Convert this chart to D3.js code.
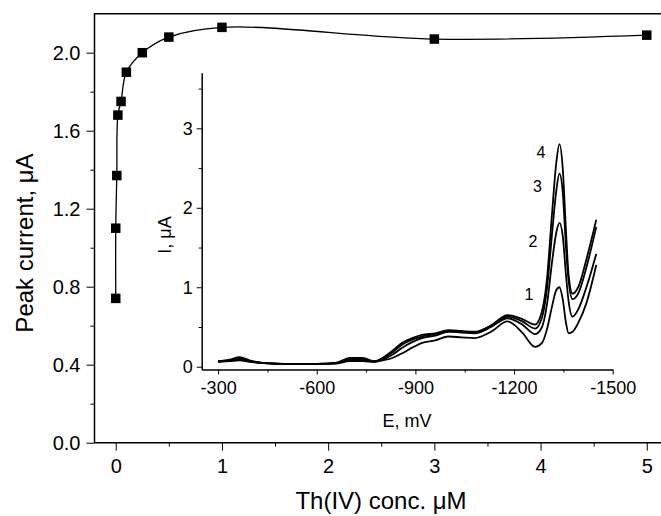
<!DOCTYPE html>
<html>
<head>
<meta charset="utf-8">
<script src="https://cdn.jsdelivr.net/npm/d3@7"></script>
<style>
  body { margin: 0; background: #fff; }
  svg { display: block; font-family: "Liberation Sans", Arial, sans-serif; }
  .axis path, .axis line { stroke: #000; }
  .axis text { fill: #000; }
</style>
</head>
<body>
<svg id="chart" width="661" height="516"></svg>
<script>
// main plot: peak current vs Th(IV) concentration
var conc = [0, 0, 0.01, 0.02, 0.05, 0.1, 0.25, 0.5, 1, 3, 5];
var peak = [0.74, 1.10, 1.37, 1.68, 1.75, 1.90, 2.00, 2.08, 2.13, 2.07, 2.09];
var mainXTicks = [0, 1, 2, 3, 4, 5];
var mainYTicks = [0.0, 0.4, 0.8, 1.2, 1.6, 2.0];

// inset: voltammograms 1..4
var potential = [-300, -335, -365, -395, -440, -500, -600, -660, -700, -740, -775, -800, -830, -860, -890, -920,
  -960, -1000, -1040, -1080, -1130, -1180, -1225, -1264, -1285, -1300, -1315, -1328, -1338, -1348, -1358,
  -1366, -1378, -1395, -1420, -1450];
var curve1 = [0.06, 0.07, 0.08, 0.06, 0.045, 0.035, 0.035, 0.04, 0.07, 0.07, 0.06, 0.08, 0.11, 0.17, 0.24, 0.30,
  0.33, 0.38, 0.37, 0.36, 0.44, 0.57, 0.43, 0.25, 0.30, 0.47, 0.75, 0.96, 1.00, 0.85, 0.55,
  0.42, 0.44, 0.55, 0.80, 1.28];
var curve2 = [0.07, 0.08, 0.10, 0.07, 0.045, 0.035, 0.035, 0.045, 0.09, 0.09, 0.065, 0.09, 0.15, 0.24, 0.31, 0.36,
  0.39, 0.44, 0.43, 0.42, 0.50, 0.61, 0.53, 0.41, 0.50, 0.78, 1.30, 1.68, 1.81, 1.65, 1.15,
  0.82, 0.63, 0.72, 1.00, 1.42];
var curve3 = [0.07, 0.09, 0.12, 0.08, 0.045, 0.035, 0.035, 0.05, 0.11, 0.11, 0.07, 0.10, 0.18, 0.28, 0.34, 0.38,
  0.41, 0.45, 0.44, 0.43, 0.51, 0.63, 0.57, 0.48, 0.62, 0.98, 1.65, 2.20, 2.43, 2.20, 1.50,
  1.08, 0.85, 0.92, 1.25, 1.76];
var curve4 = [0.06, 0.08, 0.09, 0.07, 0.045, 0.035, 0.035, 0.045, 0.08, 0.08, 0.065, 0.11, 0.20, 0.30, 0.36, 0.40,
  0.42, 0.46, 0.45, 0.44, 0.52, 0.65, 0.60, 0.53, 0.70, 1.10, 1.90, 2.55, 2.80, 2.50, 1.70,
  1.15, 0.92, 1.00, 1.35, 1.85];
var curveNames = ["1", "2", "3", "4"];
var insetXTicks = [-300, -600, -900, -1200, -1500];
var insetYTicks = [0, 1, 2, 3];

var svg = d3.select("#chart");
var plain = function(d){ return String(d); }; // keep ascii hyphen, no thousands comma

// ---- main axes
var x = d3.scaleLinear().domain([-0.2, 5.2]).range([94.5, 668]);
var y = d3.scaleLinear().domain([0, 2.2]).range([442.7, 13.7]);

svg.append("g").attr("class", "axis")
  .attr("transform", "translate(0,442.7)")
  .call(d3.axisBottom(x).tickValues(mainXTicks).tickSize(8).tickPadding(8.5).tickFormat(plain))
  .call(function(g){ g.select(".domain").remove(); })
  .selectAll("text").style("font-size", "20px");
svg.append("g").attr("class", "axis")
  .attr("transform", "translate(0,442.7)")
  .call(d3.axisBottom(x).tickValues([0.5, 1.5, 2.5, 3.5, 4.5]).tickSize(4).tickFormat(""))
  .call(function(g){ g.select(".domain").remove(); });

svg.append("g").attr("class", "axis")
  .attr("transform", "translate(94.5,0)")
  .call(d3.axisLeft(y).tickValues(mainYTicks).tickSize(8).tickPadding(6).tickFormat(d3.format(".1f")))
  .call(function(g){ g.select(".domain").remove(); })
  .selectAll("text").style("font-size", "20px");
svg.append("g").attr("class", "axis")
  .attr("transform", "translate(94.5,0)")
  .call(d3.axisLeft(y).tickValues([0.2, 0.6, 1.0, 1.4, 1.8]).tickSize(4).tickFormat(""))
  .call(function(g){ g.select(".domain").remove(); });

// frame (right side falls outside the picture)
svg.append("path")
  .attr("d", "M" + x(5.2) + "," + y(2.2) + "H" + x(-0.2) + "V" + y(0) + "H" + x(5.2))
  .attr("fill", "none").attr("stroke", "#000").attr("stroke-width", 1.5);

svg.append("text")
  .attr("x", 381).attr("y", 509)
  .attr("text-anchor", "middle").style("font-size", "24px")
  .text("Th(IV) conc. \u03bcM");
svg.append("text")
  .attr("transform", "translate(33,243) rotate(-90)")
  .attr("text-anchor", "middle").style("font-size", "24px")
  .text("Peak current, \u03bcA");

// ---- inset
var ix = d3.scaleLinear().domain([-250, -1500]).range([201.7, 612.7]);
var iy = d3.scaleLinear().domain([-0.035, 3.7]).range([369.5, 72.7]);

svg.append("g").attr("class", "axis")
  .attr("transform", "translate(0,369.5)")
  .call(d3.axisBottom(ix).tickValues(insetXTicks).tickSize(5).tickPadding(6.5).tickSizeOuter(0).tickFormat(plain))
  .call(function(g){ g.select(".domain").attr("stroke-width", 1.5); })
  .selectAll("text").style("font-size", "18px");
svg.append("g").attr("class", "axis")
  .attr("transform", "translate(0,369.5)")
  .call(d3.axisBottom(ix).tickValues([-450, -750, -1050, -1350]).tickSize(3).tickFormat(""))
  .call(function(g){ g.select(".domain").remove(); });

svg.append("g").attr("class", "axis")
  .attr("transform", "translate(201.7,0)")
  .call(d3.axisLeft(iy).tickValues(insetYTicks).tickSize(5).tickPadding(4).tickSizeOuter(0).tickFormat(plain))
  .call(function(g){ g.select(".domain").attr("stroke-width", 1.5); })
  .selectAll("text").style("font-size", "18px");
svg.append("g").attr("class", "axis")
  .attr("transform", "translate(201.7,0)")
  .call(d3.axisLeft(iy).tickValues([0.5, 1.5, 2.5, 3.5]).tickSize(3).tickFormat(""))
  .call(function(g){ g.select(".domain").remove(); });

svg.append("text")
  .attr("x", 407).attr("y", 427)
  .attr("text-anchor", "middle").style("font-size", "18px")
  .text("E, mV");
svg.append("text")
  .attr("transform", "translate(171,235) rotate(-90)")
  .attr("text-anchor", "middle").style("font-size", "18px")
  .text("I, \u03bcA");

var curves = [curve1, curve2, curve3, curve4];
var iline = d3.line()
  .x(function(d, i){ return ix(potential[i]); })
  .y(function(d){ return iy(d); })
  .curve(d3.curveMonotoneX);

svg.append("g").selectAll("path")
  .data(curves)
  .enter().append("path")
  .attr("d", iline)
  .attr("fill", "none")
  .attr("stroke", "#000")
  .attr("stroke-width", 1.8);

// curve numbers sit just left of each peak
var labelPos = [[529, 300], [533, 247], [537.5, 192], [541, 158]];
svg.append("g").selectAll("text")
  .data(curveNames)
  .enter().append("text")
  .attr("x", function(d, i){ return labelPos[i][0]; })
  .attr("y", function(d, i){ return labelPos[i][1]; })
  .attr("text-anchor", "middle")
  .style("font-size", "16px")
  .text(function(d){ return d; });

// ---- main series on top
var fit = d3.line()
  .x(function(d, i){ return x(conc[i]); })
  .y(function(d){ return y(d); })
  .curve(d3.curveCatmullRom.alpha(0.5));

svg.append("path")
  .datum(peak)
  .attr("d", fit)
  .attr("fill", "none")
  .attr("stroke", "#000")
  .attr("stroke-width", 1.3);

svg.append("g").selectAll("rect")
  .data(peak)
  .enter().append("rect")
  .attr("x", function(d, i){ return x(conc[i]) - 4.75; })
  .attr("y", function(d){ return y(d) - 4.75; })
  .attr("width", 9.5)
  .attr("height", 9.5)
  .attr("fill", "#000");
</script>
</body>
</html>
